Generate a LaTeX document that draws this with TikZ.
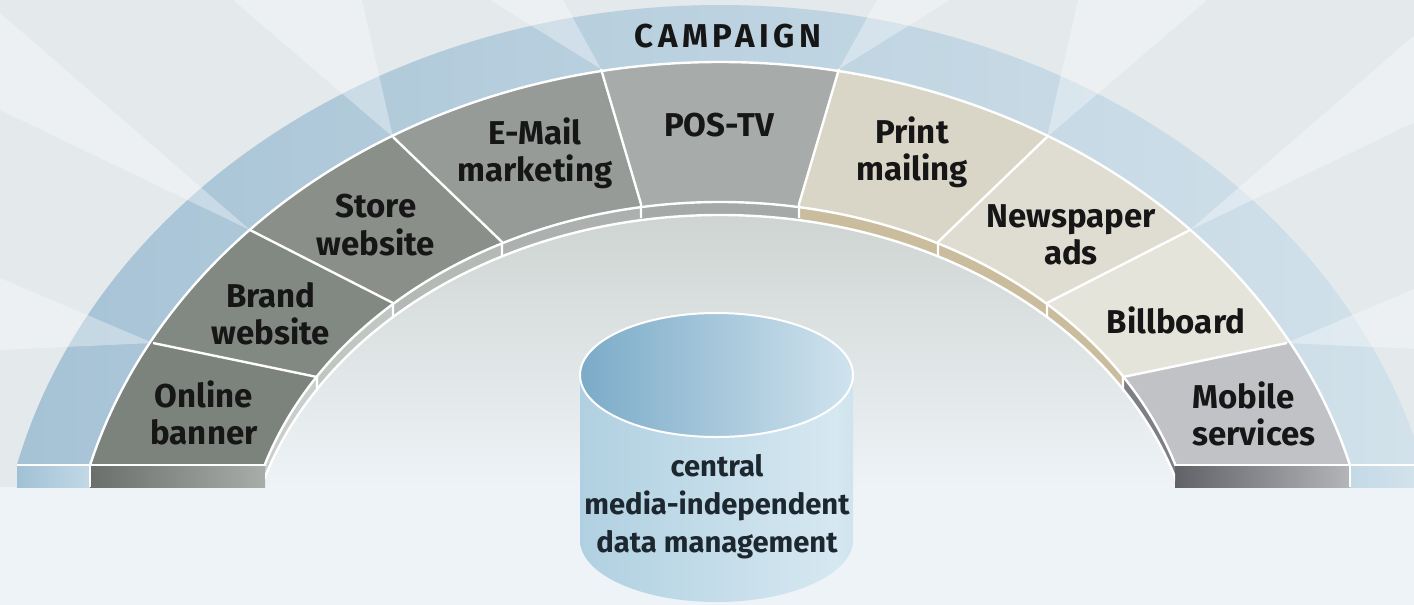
\documentclass[tikz,border=0pt]{standalone}
\usepackage{fontspec}
\setmainfont{Fira Sans}
\usetikzlibrary{calc}

\definecolor{bgGray}{HTML}{E4E9EC}
\definecolor{baseLight}{HTML}{EEF3F7}
\definecolor{bandL}{HTML}{A5C2D5}
\definecolor{bandR}{HTML}{D3E2EB}
\definecolor{bandFaceL}{HTML}{A0C1D5}
\definecolor{bandFaceR}{HTML}{C2D9E6}
\definecolor{innerTop}{HTML}{CDD3D0}
\definecolor{segA}{HTML}{7B837C}
\definecolor{segB}{HTML}{828983}
\definecolor{segC}{HTML}{8A8F8A}
\definecolor{segD}{HTML}{979B98}
\definecolor{segE}{HTML}{A7ABAA}
\definecolor{segF}{HTML}{D9D6C7}
\definecolor{segG}{HTML}{DFDDD2}
\definecolor{segH}{HTML}{E5E4DB}
\definecolor{segI}{HTML}{C1C2C6}
\definecolor{rimA}{HTML}{C9CDCB}
\definecolor{rimB}{HTML}{C2C6C3}
\definecolor{rimC}{HTML}{B5B9B6}
\definecolor{rimD}{HTML}{ACB0AE}
\definecolor{rimE}{HTML}{A5A9A7}
\definecolor{rimF}{HTML}{CABD9E}
\definecolor{rimI}{HTML}{7E7F84}
\definecolor{faceGrayL}{HTML}{6A6F6B}
\definecolor{faceGrayR}{HTML}{A9ADAA}
\definecolor{faceMobL}{HTML}{606267}
\definecolor{faceMobR}{HTML}{B3B5B9}
\definecolor{cylEdge}{HTML}{87B3CB}
\definecolor{cylMid}{HTML}{B0D0E1}
\definecolor{cylHi}{HTML}{D6E8F1}
\definecolor{cylTopL}{HTML}{7BABC8}
\definecolor{cylTopR}{HTML}{D0E3EE}
\definecolor{labelInk}{HTML}{161616}
\definecolor{cylInk}{HTML}{1D2730}

\pgfdeclarehorizontalshading{cylside}{100bp}{color(0bp)=(cylEdge); color(25bp)=(cylMid); color(72bp)=(cylHi); color(88bp)=(cylMid); color(100bp)=(cylEdge)}

\tikzset{
  seglabel/.style={font=\fontsize{16.5}{18.7}\selectfont\bfseries, text=labelInk, align=center, inner sep=0pt},
  cyltext/.style={font=\fontsize{14.6}{19}\selectfont\bfseries, text=cylInk, align=center, inner sep=0pt},
  whiteline/.style={draw=white, line width=1.2pt},
  beam/.style={fill=white, fill opacity=0.35},
}

\begin{document}
\begin{tikzpicture}[x=0.5pt, y=-0.5pt]
    \useasboundingbox (0,0) rectangle (1414,605);
    %% divider ends, outer (O) and inner (I)
    \coordinate (O0) at (90,465);    \coordinate (I0) at (265,465);
    \coordinate (O1) at (153,343);   \coordinate (I1) at (317,377);
    \coordinate (O2) at (250,230);   \coordinate (I2) at (393,303);
    \coordinate (O3) at (393,137);   \coordinate (I3) at (502,242);
    \coordinate (O4) at (601,69);    \coordinate (I4) at (641,204);
    \coordinate (O5) at (839,69);    \coordinate (I5) at (799,204);
    \coordinate (O6) at (1047,137);  \coordinate (I6) at (938,242);
    \coordinate (O7) at (1190,230);  \coordinate (I7) at (1047,303);
    \coordinate (O8) at (1287,343);  \coordinate (I8) at (1123,377);
    \coordinate (O9) at (1350,465);  \coordinate (I9) at (1175,465);

    %% background, band and light beams
    \fill[bgGray] (0,0) rectangle (1414,605);
    \fill[baseLight] (0,487) rectangle (1414,605);
    \begin{scope}
        \clip (0,0) rectangle (1414,465);
        \shade[left color=bandL, right color=bandR] (720,610) ellipse [x radius=724, y radius=605];
    \end{scope}
    \fill[beam] (O1) -- (0,278) -- (0,350) -- cycle;
    \fill[beam] (O2) -- (0,13) -- (0,110) -- cycle;
    \fill[beam] (O3) -- (233,0) -- (362,0) -- cycle;
    \fill[beam] (O4) -- (490,0) -- (563,0) -- cycle;
    \fill[beam] (O5) -- (877,0) -- (950,0) -- cycle;
    \fill[beam] (O6) -- (1078,0) -- (1207,0) -- cycle;
    \fill[beam] (O7) -- (1440,13) -- (1440,110) -- cycle;
    \fill[beam] (O8) -- (1440,278) -- (1440,350) -- cycle;
    \shade[left color=bandFaceL, right color=bandFaceR] (17,465) rectangle (90,487);
    \shade[left color=bandFaceR, right color=bandR] (1350,465) rectangle (1414,487);

    %% floor inside the arch
    \begin{scope}
        \clip (720,577) ellipse [x radius=477, y radius=375];
        \shade[top color=innerTop, bottom color=baseLight] (243,200) rectangle (1197,487);
    \end{scope}

    %% segments and their inner walls
    \foreach \L/\R/\segcol/\rimcol/\xa/\xb in {0/1/segA/rimA/265/317, 1/2/segB/rimB/317/393, 2/3/segC/rimC/393/502, 3/4/segD/rimD/502/641, 4/5/segE/rimE/641/799, 5/6/segF/rimF/799/938, 6/7/segG/rimF/938/1047, 7/8/segH/rimF/1047/1123, 8/9/segI/rimI/1123/1175}{
        \begin{scope}
            \clip ($(O\L)!-0.5!(I\L)$) -- ($(I\L)!-0.3!(O\L)$) -- ($(I\R)!-0.3!(O\R)$) -- ($(O\R)!-0.5!(I\R)$) -- cycle;
            \fill[\segcol, even odd rule] (720,610) ellipse [x radius=653, y radius=548] (720,577) ellipse [x radius=477, y radius=375];
        \end{scope}
        \begin{scope}
            \clip (\xa,150) rectangle (\xb,487);
            \fill[\rimcol, even odd rule] (720,577) ellipse [x radius=477, y radius=375] (720,590) ellipse [x radius=477, y radius=375];
        \end{scope}
    }
    \shade[left color=faceGrayL, right color=faceGrayR] (O0) rectangle (265,487);
    \shade[left color=faceMobL, right color=faceMobR] (I9) rectangle (1350,487);

    %% white edges
    \begin{scope}
        \clip (0,0) rectangle (1414,465.5);
        \draw[whiteline] (720,610) ellipse [x radius=653, y radius=548];
        \draw[whiteline] (720,577) ellipse [x radius=477, y radius=375];
    \end{scope}
    \begin{scope}
        \clip (265,0) rectangle (1175,487);
        \draw[whiteline] (720,590) ellipse [x radius=477, y radius=375];
    \end{scope}
    \foreach \k in {1,...,8}
        \draw[whiteline] (O\k) -- (I\k) -- ++(0,14);
    \draw[whiteline] (17,465) -- (I0);
    \draw[whiteline] (I9) -- (1414,465);
    \draw[whiteline] (O0) -- ++(0,22);
    \draw[whiteline] (O9) -- ++(0,22);

    %% data cylinder
    \shade[shading=cylside] (580,375) -- (580,540) arc[start angle=180, end angle=0, x radius=136.5, y radius=62] -- (853,375) -- cycle;
    \shadedraw[left color=cylTopL, right color=cylTopR, draw=white, line width=1pt] (716.5,375) ellipse [x radius=136.5, y radius=62];

    %% labels
    \node[font=\fontsize{16.5}{18}\selectfont\bfseries\addfontfeatures{LetterSpace=14}, text=labelInk, inner sep=0pt] (campaign) at (728,36) {CAMPAIGN};
    \node[seglabel] (online) at (204,413) {Online\\banner};
    \node[seglabel] (brandweb) at (271,314) {Brand\\website};
    \node[seglabel] (storeweb) at (376,225) {Store\\website};
    \node[seglabel] (email) at (535,153) {E-Mail\\marketing};
    \node[seglabel] (postv) at (719,125) {POS-TV};
    \node[seglabel] (print) at (912,152) {Print\\mailing};
    \node[seglabel] (newspaper) at (1071,235) {Newspaper\\ads};
    \node[seglabel] (billboard) at (1176,320) {Billboard};
    \node[seglabel, align=left, anchor=west] (mobile) at (1192,414) {Mobile\\services};
    \node[cyltext] (datamgmt) at (717,507) {central\\media-independent\\data management};
\end{tikzpicture}
\end{document}
